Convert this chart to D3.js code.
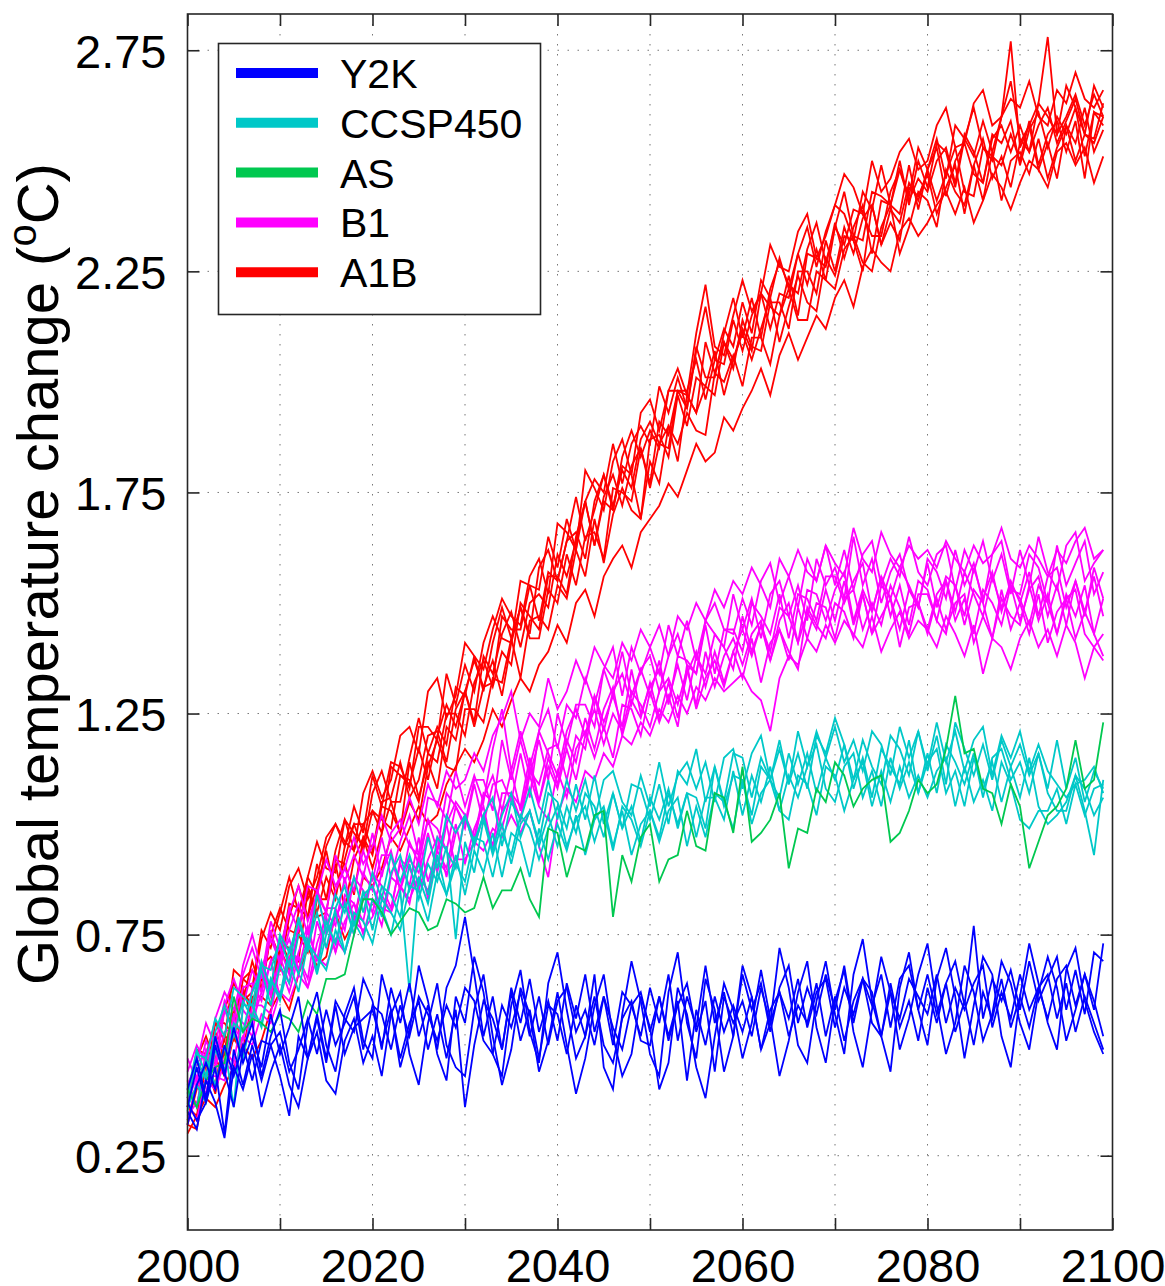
<!DOCTYPE html>
<html>

<head>
    <meta charset="utf-8">
    <title>Global temperature change</title>
    <script type="text/javascript" src="https://cdn.jsdelivr.net/npm/d3@7/dist/d3.min.js"></script>
    <style>
        body { margin: 0; background: #fff; }
        svg text { font-family: "Liberation Sans", Arial, sans-serif; fill: #000; }
    </style>
</head>

<body>
    <script type="text/javascript">
    /* data: one row per run, years 2000..2099 */
    var years = d3.range(2000, 2100);

    var a1b = [
        [0.38,0.46,0.43,0.55,0.55,0.52,0.65,0.67,0.63,0.75, 0.81,0.76,0.75,0.88,0.96,0.90,0.89,1.01,0.98,0.95,
         1.07,1.12,1.05,1.05,1.15,1.24,1.16,1.22,1.18,1.31, 1.29,1.38,1.30,1.41,1.49,1.42,1.49,1.43,1.58,1.62,
         1.55,1.64,1.74,1.64,1.71,1.79,1.71,1.83,1.89,1.83, 1.89,1.85,1.98,1.98,1.94,2.08,2.01,2.01,2.11,2.19,
         2.10,2.19,2.10,2.21,2.27,2.22,2.20,2.30,2.36,2.27, 2.35,2.43,2.33,2.32,2.43,2.42,2.40,2.50,2.40,2.50,
         2.44,2.54,2.52,2.44,2.55,2.62,2.53,2.50,2.60,2.68, 2.55,2.52,2.63,2.60,2.56,2.67,2.62,2.56,2.67,2.62],
        [0.36,0.34,0.46,0.39,0.49,0.58,0.49,0.59,0.65,0.62, 0.73,0.72,0.69,0.85,0.79,0.80,0.92,0.91,0.84,0.97,
         0.93,1.04,1.03,0.98,1.14,1.06,1.14,1.08,1.22,1.19, 1.30,1.22,1.31,1.37,1.29,1.41,1.49,1.42,1.42,1.53,
         1.50,1.61,1.54,1.65,1.66,1.60,1.76,1.75,1.73,1.85, 1.76,1.86,1.90,1.82,1.97,1.93,1.99,2.07,1.97,2.05,
         2.11,2.05,2.12,2.19,2.09,2.17,2.24,2.18,2.16,2.28, 2.24,2.33,2.32,2.25,2.40,2.31,2.36,2.32,2.44,2.42,
         2.47,2.38,2.44,2.49,2.38,2.49,2.55,2.46,2.51,2.44, 2.54,2.58,2.48,2.54,2.46,2.58,2.54,2.62,2.52,2.57],
        [0.33,0.41,0.42,0.53,0.48,0.57,0.63,0.56,0.68,0.70, 0.67,0.79,0.86,0.79,0.86,0.94,0.84,0.92,1.00,1.00,
         0.94,1.05,1.06,1.14,1.06,1.10,1.20,1.21,1.14,1.26, 1.30,1.23,1.38,1.34,1.43,1.48,1.40,1.50,1.52,1.49,
         1.61,1.56,1.64,1.73,1.63,1.74,1.79,1.72,1.81,1.85, 1.77,1.91,1.88,1.98,1.97,1.93,2.09,2.02,2.09,2.05,
         2.12,2.07,2.20,2.17,2.15,2.24,2.15,2.29,2.28,2.26, 2.36,2.28,2.35,2.40,2.29,2.41,2.40,2.38,2.49,2.39,
         2.48,2.53,2.42,2.50,2.54,2.47,2.45,2.56,2.54,2.59, 2.49,2.57,2.61,2.53,2.60,2.56,2.62,2.51,2.61,2.60],
        [0.36,0.49,0.48,0.55,0.51,0.67,0.65,0.63,0.76,0.72, 0.80,0.88,0.80,0.88,0.84,0.95,1.00,0.95,1.04,0.98,
         1.11,1.04,1.14,1.13,1.08,1.22,1.22,1.19,1.34,1.27, 1.36,1.30,1.41,1.47,1.42,1.41,1.55,1.54,1.53,1.65,
         1.58,1.69,1.62,1.73,1.78,1.75,1.86,1.77,1.86,1.90, 1.86,1.99,1.93,2.01,1.94,2.07,2.17,2.05,2.12,2.08,
         2.18,2.11,2.23,2.19,2.28,2.21,2.29,2.35,2.26,2.34, 2.40,2.38,2.32,2.43,2.39,2.49,2.40,2.48,2.42,2.53,
         2.48,2.55,2.46,2.58,2.55,2.51,2.59,2.52,2.60,2.77, 2.53,2.58,2.63,2.78,2.56,2.60,2.65,2.58,2.65,2.60],
        [0.32,0.31,0.42,0.47,0.43,0.52,0.47,0.61,0.61,0.59, 0.72,0.67,0.75,0.71,0.83,0.83,0.91,0.81,0.92,0.97,
         0.90,0.98,1.05,0.98,1.05,1.01,1.13,1.19,1.13,1.12, 1.26,1.26,1.23,1.33,1.32,1.42,1.33,1.46,1.47,1.44,
         1.54,1.51,1.62,1.56,1.69,1.59,1.70,1.76,1.71,1.69, 1.82,1.77,1.90,1.86,1.93,1.89,1.88,2.02,2.00,2.06,
         1.99,2.10,2.10,2.04,2.15,2.21,2.14,2.14,2.25,2.23, 2.21,2.30,2.33,2.27,2.25,2.35,2.40,2.29,2.35,2.43,
         2.41,2.35,2.48,2.43,2.40,2.49,2.41,2.52,2.41,2.50, 2.52,2.47,2.55,2.46,2.53,2.58,2.50,2.56,2.54,2.60],
        [0.42,0.36,0.47,0.46,0.59,0.53,0.60,0.69,0.62,0.75, 0.70,0.82,0.81,0.79,0.91,0.83,0.94,1.01,0.94,1.00,
         1.03,0.98,1.13,1.11,1.09,1.17,1.10,1.20,1.27,1.22, 1.30,1.37,1.31,1.32,1.47,1.44,1.44,1.54,1.46,1.57,
         1.55,1.64,1.66,1.60,1.73,1.79,1.72,1.80,1.76,1.87, 1.91,1.86,1.85,1.98,1.98,2.05,1.96,2.05,2.04,2.14,
         2.07,2.15,2.20,2.12,2.20,2.19,2.29,2.22,2.30,2.23, 2.35,2.31,2.39,2.38,2.33,2.33,2.43,2.48,2.41,2.46,
         2.43,2.50,2.53,2.45,2.56,2.52,2.45,2.55,2.58,2.52, 2.58,2.52,2.58,2.62,2.54,2.59,2.64,2.56,2.55,2.63],
        [0.32,0.40,0.47,0.41,0.52,0.51,0.62,0.59,0.68,0.63, 0.74,0.69,0.80,0.86,0.80,0.88,0.83,0.95,1.00,0.94,
         1.03,1.01,0.99,1.11,1.10,1.05,1.16,1.14,1.25,1.25, 1.20,1.32,1.37,1.31,1.39,1.36,1.50,1.47,1.44,1.56,
         1.56,1.52,1.65,1.73,1.63,1.73,1.71,1.81,1.79,1.69, 1.87,1.88,1.83,1.97,1.90,2.01,1.99,1.97,2.09,2.03,
         2.14,2.08,2.07,2.18,2.18,2.12,2.25,2.25,2.20,2.32, 2.25,2.35,2.29,2.37,2.40,2.31,2.39,2.36,2.45,2.41,
         2.48,2.41,2.47,2.53,2.43,2.42,2.53,2.51,2.49,2.56, 2.50,2.59,2.49,2.56,2.59,2.52,2.59,2.46,2.61,2.58],
        [0.40,0.47,0.52,0.46,0.58,0.64,0.60,0.62,0.74,0.80, 0.76,0.86,0.90,0.83,0.88,0.97,1.00,0.96,0.94,1.07,
         1.12,1.06,1.10,1.20,1.22,1.16,1.30,1.33,1.24,1.29, 1.41,1.38,1.35,1.44,1.51,1.47,1.45,1.56,1.60,1.52,
         1.68,1.66,1.62,1.80,1.76,1.71,1.82,1.87,1.79,1.93, 1.96,1.89,1.98,2.03,1.97,2.11,2.22,2.08,2.06,2.15,
         2.23,2.16,2.20,2.31,2.26,2.25,2.34,2.38,2.28,2.33, 2.40,2.47,2.44,2.38,2.50,2.43,2.46,2.52,2.55,2.48,
         2.50,2.58,2.62,2.53,2.54,2.63,2.66,2.58,2.60,2.64, 2.62,2.68,2.60,2.58,2.66,2.63,2.70,2.64,2.62,2.66],
        [0.30,0.34,0.38,0.36,0.41,0.45,0.50,0.47,0.51,0.58, 0.62,0.58,0.66,0.72,0.68,0.70,0.80,0.74,0.78,0.88,
         0.86,0.90,0.97,0.94,0.99,1.04,1.00,1.02,1.09,1.13, 1.17,1.14,1.19,1.26,1.22,1.28,1.33,1.30,1.36,1.39,
         1.45,1.41,1.50,1.53,1.47,1.56,1.60,1.63,1.58,1.66, 1.69,1.72,1.77,1.74,1.80,1.86,1.82,1.84,1.92,1.89,
         1.94,1.98,2.03,1.97,2.06,2.11,2.05,2.10,2.15,2.12, 2.19,2.23,2.17,2.26,2.30,2.27,2.25,2.34,2.37,2.33,
         2.36,2.40,2.43,2.38,2.44,2.36,2.41,2.47,2.44,2.39, 2.45,2.50,2.48,2.44,2.52,2.54,2.49,2.53,2.45,2.51]
    ];

    var b1 = [
        [0.47,0.42,0.51,0.46,0.59,0.65,0.59,0.67,0.62,0.76, 0.68,0.76,0.82,0.75,0.85,0.75,0.85,0.90,0.85,0.94,
         0.87,0.97,0.88,0.96,1.02,0.93,1.01,0.94,1.07,1.04, 1.00,1.10,1.10,1.03,1.19,1.10,1.19,1.11,1.19,1.10,
         1.25,1.18,1.27,1.27,1.22,1.35,1.29,1.39,1.29,1.35, 1.38,1.30,1.38,1.43,1.36,1.34,1.46,1.43,1.40,1.52,
         1.44,1.51,1.42,1.52,1.55,1.47,1.54,1.46,1.60,1.54, 1.58,1.51,1.65,1.54,1.60,1.50,1.57,1.61,1.53,1.49,
         1.60,1.57,1.51,1.62,1.54,1.59,1.50,1.61,1.64,1.53, 1.52,1.61,1.58,1.50,1.63,1.54,1.59,1.64,1.52,1.57],
        [0.37,0.43,0.39,0.49,0.46,0.57,0.55,0.52,0.67,0.61, 0.70,0.64,0.71,0.77,0.69,0.78,0.71,0.84,0.82,0.78,
         0.89,0.86,0.81,0.91,0.86,0.97,0.87,0.94,1.00,0.90, 1.02,0.97,1.07,1.05,0.99,1.07,1.04,1.15,1.05,1.15,
         1.09,1.19,1.14,1.24,1.17,1.26,1.31,1.20,1.28,1.24, 1.32,1.24,1.32,1.24,1.34,1.39,1.31,1.39,1.32,1.39,
         1.44,1.38,1.45,1.37,1.46,1.50,1.41,1.48,1.44,1.53, 1.46,1.55,1.45,1.52,1.43,1.54,1.51,1.44,1.53,1.50,
         1.44,1.52,1.55,1.46,1.51,1.43,1.53,1.50,1.45,1.54, 1.51,1.45,1.54,1.50,1.43,1.52,1.47,1.54,1.43,1.38],
        [0.36,0.46,0.48,0.44,0.58,0.53,0.63,0.64,0.60,0.69, 0.72,0.66,0.77,0.73,0.84,0.80,0.77,0.88,0.78,0.89,
         0.85,0.93,0.93,0.85,0.96,0.91,1.01,0.99,0.94,1.04, 0.99,1.09,1.00,1.09,1.10,1.05,1.16,1.06,1.21,1.16,
         1.11,1.21,1.26,1.20,1.29,1.21,1.30,1.34,1.27,1.35, 1.29,1.37,1.27,1.38,1.37,1.34,1.45,1.34,1.44,1.44,
         1.39,1.50,1.47,1.43,1.52,1.42,1.52,1.51,1.46,1.56, 1.56,1.50,1.55,1.59,1.48,1.56,1.51,1.58,1.54,1.49,
         1.59,1.49,1.56,1.54,1.47,1.58,1.51,1.57,1.48,1.55, 1.50,1.57,1.47,1.56,1.58,1.49,1.55,1.47,1.58,1.51],
        [0.37,0.33,0.43,0.43,0.42,0.54,0.47,0.59,0.59,0.57, 0.68,0.62,0.70,0.63,0.73,0.79,0.71,0.78,0.82,0.75,
         0.83,0.77,0.88,0.86,0.82,0.93,0.83,0.94,0.90,1.00, 0.91,0.99,1.04,0.94,1.03,1.06,1.01,1.11,1.04,1.01,
         1.12,1.06,1.17,1.21,1.15,1.22,1.15,1.27,1.26,1.20, 1.30,1.23,1.29,1.22,1.36,1.26,1.33,1.37,1.31,1.39,
         1.33,1.42,1.32,1.41,1.44,1.39,1.35,1.49,1.45,1.42, 1.50,1.48,1.42,1.52,1.43,1.47,1.51,1.40,1.49,1.50,
         1.43,1.51,1.44,1.50,1.52,1.41,1.47,1.42,1.53,1.44, 1.50,1.43,1.52,1.41,1.48,1.51,1.42,1.48,1.43,1.51],
        [0.41,0.46,0.55,0.50,0.60,0.55,0.68,0.75,0.67,0.74, 0.69,0.81,0.76,0.86,0.85,0.80,0.93,0.87,0.93,0.88,
         0.98,0.88,0.98,1.01,0.95,0.93,1.06,1.05,1.01,1.12, 1.04,1.11,1.05,1.17,1.26,1.12,1.21,1.13,1.21,1.26,
         1.17,1.27,1.24,1.33,1.27,1.35,1.40,1.29,1.40,1.34, 1.40,1.34,1.45,1.38,1.46,1.37,1.46,1.50,1.44,1.43,
         1.51,1.45,1.55,1.59,1.50,1.56,1.49,1.60,1.55,1.63, 1.54,1.62,1.53,1.61,1.64,1.54,1.60,1.56,1.65,1.57,
         1.54,1.61,1.63,1.53,1.62,1.57,1.64,1.55,1.61,1.52, 1.62,1.54,1.65,1.57,1.53,1.63,1.66,1.55,1.59,1.62],
        [0.40,0.36,0.49,0.45,0.53,0.54,0.51,0.63,0.68,0.62, 0.69,0.74,0.67,0.76,0.69,0.81,0.81,0.76,0.88,0.85,
         0.80,0.89,0.94,0.85,0.92,0.89,0.98,0.89,1.00,1.05, 1.02,0.96,1.06,1.11,1.03,1.12,1.03,1.12,1.09,1.17,
         1.18,1.10,1.20,1.17,1.29,1.23,1.29,1.22,1.35,1.25, 1.31,1.35,1.28,1.36,1.28,1.38,1.34,1.43,1.40,1.35,
         1.47,1.39,1.45,1.39,1.49,1.47,1.41,1.53,1.52,1.46, 1.53,1.57,1.46,1.53,1.48,1.56,1.47,1.54,1.45,1.55,
         1.53,1.46,1.55,1.48,1.57,1.52,1.47,1.56,1.49,1.54, 1.46,1.53,1.56,1.47,1.54,1.45,1.55,1.48,1.56,1.47],
        [0.32,0.42,0.38,0.50,0.49,0.46,0.58,0.55,0.62,0.69, 0.61,0.70,0.70,0.65,0.78,0.72,0.79,0.83,0.75,0.83,
         0.86,0.81,0.80,0.92,0.90,0.85,0.92,0.97,0.88,0.98, 1.02,0.95,1.02,0.95,1.07,1.07,1.01,1.13,1.05,1.13,
         1.08,1.17,1.10,1.20,1.26,1.18,1.25,1.21,1.30,1.27, 1.22,1.30,1.33,1.27,1.35,1.27,1.39,1.31,1.38,1.42,
         1.36,1.43,1.46,1.37,1.44,1.37,1.49,1.42,1.50,1.49, 1.42,1.51,1.53,1.44,1.50,1.45,1.54,1.49,1.43,1.52,
         1.52,1.46,1.43,1.54,1.45,1.53,1.50,1.42,1.51,1.47, 1.45,1.54,1.46,1.52,1.43,1.51,1.53,1.43,1.40,1.37],
        [0.44,0.50,0.46,0.56,0.62,0.58,0.66,0.72,0.65,0.78, 0.72,0.80,0.86,0.78,0.84,0.92,0.86,0.90,0.97,0.91,
         0.95,1.02,0.96,0.99,1.06,1.00,1.09,1.04,1.12,1.08, 1.10,1.16,1.12,1.20,1.24,1.30,1.19,1.25,1.22,1.33,
         1.26,1.30,1.37,1.32,1.40,1.36,1.33,1.41,1.37,1.44, 1.40,1.45,1.38,1.47,1.44,1.50,1.46,1.53,1.49,1.55,
         1.52,1.58,1.54,1.49,1.60,1.56,1.62,1.57,1.55,1.63, 1.59,1.56,1.67,1.60,1.57,1.66,1.61,1.58,1.63,1.60,
         1.62,1.58,1.64,1.60,1.57,1.63,1.59,1.61,1.67,1.60, 1.58,1.63,1.60,1.56,1.62,1.59,1.64,1.67,1.60,1.62],
        [0.34,0.37,0.42,0.40,0.46,0.44,0.52,0.50,0.57,0.55, 0.62,0.60,0.66,0.63,0.70,0.68,0.74,0.71,0.78,0.76,
         0.79,0.84,0.80,0.86,0.83,0.88,0.85,0.92,0.89,0.92, 0.92,0.96,0.94,0.99,0.97,1.02,0.98,1.03,0.95,0.88,
         1.02,1.08,1.05,1.12,1.10,1.16,1.13,1.20,1.18,1.23, 1.20,1.26,1.23,1.29,1.25,1.31,1.28,1.33,1.30,1.32,
         1.34,1.30,1.28,1.21,1.33,1.38,1.36,1.42,1.39,1.45, 1.41,1.46,1.43,1.40,1.47,1.39,1.44,1.48,1.42,1.46,
         1.44,1.40,1.47,1.43,1.38,1.45,1.34,1.42,1.40,1.35, 1.42,1.46,1.40,1.44,1.38,1.45,1.41,1.33,1.40,1.43]
    ];

    var ccsp450 = [
        [0.39,0.49,0.43,0.53,0.59,0.52,0.60,0.56,0.68,0.67, 0.74,0.68,0.79,0.72,0.80,0.72,0.81,0.86,0.77,0.84,
         0.86,0.79,0.89,0.93,0.85,0.91,0.84,0.97,0.94,0.90, 1.02,0.95,1.02,0.94,1.02,1.07,0.97,1.03,0.96,1.07,
         1.05,0.99,1.09,1.01,1.11,1.00,1.07,0.99,1.09,1.08, 1.01,1.09,1.00,1.12,1.09,1.17,1.05,1.13,1.05,1.16,
         1.15,1.06,1.15,1.10,1.19,1.09,1.16,1.08,1.20,1.16, 1.24,1.18,1.10,1.19,1.13,1.09,1.20,1.17,1.11,1.21,
         1.12,1.20,1.09,1.23,1.17,1.11,1.18,1.10,1.19,1.13, 1.18,1.11,1.16,1.08,1.19,1.08,1.15,1.05,1.12,1.08],
        [0.40,0.36,0.47,0.41,0.50,0.36,0.59,0.59,0.54,0.65, 0.61,0.72,0.66,0.74,0.66,0.75,0.80,0.71,0.78,0.74,
         0.83,0.81,0.75,0.85,0.62,0.88,0.82,0.93,0.84,0.91, 0.87,0.97,0.96,0.88,0.98,0.93,1.02,0.99,0.92,0.99,
         1.04,0.95,1.01,1.04,0.96,1.03,0.94,1.04,1.01,0.95, 1.03,0.97,1.07,1.00,1.07,0.97,1.06,1.06,1.01,1.12,
         1.02,1.11,1.05,1.13,1.03,1.11,1.06,1.13,1.18,1.08, 1.05,1.13,1.16,1.06,1.12,1.04,1.15,1.08,1.14,1.07,
         1.14,1.17,1.07,1.12,1.04,1.15,1.08,1.14,1.05,1.13, 1.06,1.15,1.04,1.00,1.02,1.05,1.11,1.08,1.02,1.06],
        [0.35,0.47,0.42,0.52,0.44,0.55,0.53,0.62,0.67,0.59, 0.68,0.64,0.75,0.74,0.67,0.78,0.73,0.82,0.75,0.85,
         0.76,0.86,0.84,0.79,0.91,0.83,0.91,0.87,0.95,0.74, 0.96,0.89,1.01,0.93,1.00,0.91,1.00,1.03,0.95,1.02,
         0.95,1.04,0.98,1.07,1.04,0.97,1.07,0.99,1.04,0.96, 1.06,1.01,1.08,0.99,1.07,1.06,0.99,1.13,1.04,1.11,
         1.10,1.02,1.13,1.10,1.06,1.16,1.09,1.16,1.07,1.15, 1.10,1.18,1.08,1.15,1.06,1.17,1.13,1.09,1.19,1.07,
         1.16,1.07,1.18,1.14,1.09,1.16,1.06,1.15,1.17,1.10, 1.14,1.07,1.16,1.07,1.03,1.03,1.11,1.03,0.93,1.10],
        [0.36,0.41,0.37,0.49,0.44,0.53,0.47,0.57,0.55,0.65, 0.60,0.69,0.62,0.73,0.70,0.67,0.76,0.71,0.80,0.78,
         0.73,0.83,0.80,0.76,0.86,0.85,0.78,0.89,0.84,0.93, 0.84,0.94,0.89,0.98,0.88,0.98,0.96,0.88,0.99,0.92,
         1.00,0.94,1.02,0.93,1.01,1.04,0.95,1.03,0.93,1.00, 1.03,0.96,1.03,1.06,0.95,1.04,0.97,1.07,1.05,0.99,
         1.10,1.00,1.07,1.10,1.03,1.01,1.11,1.09,1.02,1.13, 1.11,1.03,1.10,1.14,1.04,1.12,1.05,1.13,1.06,1.11,
         1.06,1.12,1.15,1.04,1.13,1.05,1.10,1.03,1.14,1.09, 1.01,0.99,1.03,1.03,1.08,1.00,1.09,1.02,1.08,1.09],
        [0.38,0.48,0.47,0.56,0.52,0.63,0.61,0.59,0.69,0.63, 0.75,0.71,0.78,0.71,0.84,0.76,0.84,0.80,0.88,0.80,
         0.89,0.83,0.93,0.87,0.93,0.86,0.97,0.90,1.02,0.98, 1.02,0.96,1.02,1.06,0.95,1.05,1.01,1.08,1.00,1.10,
         1.01,1.10,1.03,1.10,1.01,1.10,1.12,1.05,1.02,1.11, 1.04,1.14,1.04,1.11,1.14,1.08,1.14,1.05,1.15,1.17,
         1.08,1.16,1.20,1.10,1.17,1.09,1.21,1.13,1.21,1.15, 1.22,1.14,1.19,1.12,1.21,1.18,1.11,1.22,1.15,1.21,
         1.13,1.23,1.14,1.21,1.12,1.19,1.22,1.11,1.20,1.15, 1.21,1.12,1.18,1.12,1.09,1.06,1.09,1.10,1.13,1.07]
    ];

    var as = [
        [0.40,0.36,0.42,0.45,0.46,0.61,0.53,0.56,0.55,0.53, 0.57,0.56,0.53,0.60,0.57,0.65,0.65,0.66,0.75,0.83,
         0.83,0.80,0.75,0.78,0.81,0.80,0.76,0.77,0.83,0.82, 0.80,0.81,0.88,0.81,0.85,0.85,0.90,0.83,0.79,0.99,
         0.98,0.88,0.95,0.94,1.02,1.03,0.79,0.93,0.87,0.97, 1.00,0.87,0.92,0.93,1.03,0.95,0.94,1.07,1.06,0.98,
         1.13,0.96,0.98,1.01,1.07,0.90,0.99,0.98,1.08,1.05, 1.14,1.11,1.04,1.08,1.10,1.11,0.96,0.98,1.03,1.10,
         1.07,1.09,1.17,1.29,1.16,1.17,1.08,1.07,1.00,1.09, 1.04,0.90,0.96,1.02,1.04,1.08,1.19,1.08,1.10,1.23]
    ];

    var y2k = [
        [0.36,0.45,0.37,0.50,0.43,0.54,0.46,0.52,0.45,0.57, 0.48,0.54,0.61,0.47,0.57,0.47,0.60,0.56,0.53,0.65,
         0.60,0.49,0.63,0.55,0.64,0.52,0.59,0.49,0.63,0.68, 0.79,0.66,0.52,0.61,0.49,0.63,0.55,0.65,0.53,0.60,
         0.51,0.64,0.56,0.66,0.53,0.61,0.50,0.62,0.59,0.52, 0.63,0.55,0.66,0.51,0.61,0.54,0.68,0.55,0.62,0.52,
         0.66,0.58,0.64,0.53,0.63,0.68,0.55,0.63,0.57,0.66, 0.58,0.68,0.55,0.65,0.59,0.66,0.54,0.65,0.68,0.58,
         0.66,0.57,0.64,0.69,0.59,0.77,0.56,0.65,0.60,0.67, 0.58,0.69,0.60,0.65,0.70,0.58,0.67,0.57,0.71,0.69],
        [0.37,0.33,0.37,0.45,0.30,0.49,0.41,0.50,0.42,0.50, 0.43,0.34,0.52,0.47,0.56,0.46,0.59,0.48,0.54,0.56,
         0.58,0.50,0.58,0.47,0.55,0.60,0.49,0.57,0.47,0.58, 0.36,0.50,0.60,0.56,0.49,0.62,0.51,0.58,0.47,0.59,
         0.57,0.48,0.59,0.52,0.61,0.50,0.46,0.56,0.60,0.51, 0.50,0.61,0.52,0.60,0.42,0.58,0.50,0.61,0.53,0.59,
         0.53,0.61,0.49,0.58,0.62,0.52,0.59,0.55,0.64,0.52, 0.61,0.51,0.60,0.65,0.55,0.52,0.64,0.54,0.60,0.51,
         0.63,0.55,0.64,0.53,0.60,0.50,0.62,0.56,0.65,0.54, 0.61,0.54,0.63,0.66,0.56,0.64,0.53,0.61,0.55,0.49],
        [0.32,0.41,0.46,0.40,0.50,0.43,0.50,0.42,0.51,0.50, 0.53,0.44,0.49,0.56,0.48,0.58,0.50,0.55,0.61,0.49,
         0.59,0.57,0.49,0.59,0.52,0.61,0.57,0.51,0.59,0.54, 0.63,0.60,0.51,0.48,0.59,0.54,0.62,0.52,0.61,0.50,
         0.60,0.63,0.53,0.58,0.50,0.61,0.54,0.49,0.59,0.62, 0.53,0.61,0.51,0.59,0.64,0.53,0.60,0.44,0.61,0.55,
         0.60,0.52,0.63,0.55,0.62,0.56,0.65,0.54,0.62,0.65, 0.54,0.63,0.57,0.65,0.62,0.52,0.62,0.56,0.65,0.61,
         0.57,0.66,0.55,0.63,0.58,0.64,0.68,0.54,0.62,0.56, 0.66,0.58,0.63,0.56,0.65,0.68,0.59,0.66,0.58,0.73],
        [0.40,0.47,0.38,0.52,0.44,0.36,0.49,0.55,0.43,0.52, 0.58,0.46,0.40,0.55,0.62,0.50,0.44,0.57,0.63,0.51,
         0.47,0.66,0.58,0.45,0.53,0.68,0.60,0.48,0.42,0.61, 0.55,0.70,0.62,0.48,0.43,0.59,0.67,0.53,0.46,0.64,
         0.71,0.58,0.47,0.52,0.66,0.45,0.40,0.57,0.69,0.60, 0.48,0.43,0.62,0.71,0.55,0.47,0.65,0.58,0.44,0.52,
         0.68,0.61,0.49,0.55,0.72,0.63,0.50,0.46,0.60,0.69, 0.57,0.48,0.66,0.74,0.60,0.52,0.44,0.63,0.71,0.58,
         0.50,0.65,0.72,0.61,0.47,0.59,0.70,0.66,0.52,0.45, 0.61,0.73,0.64,0.55,0.49,0.67,0.72,0.60,0.53,0.48],
        [0.35,0.31,0.42,0.37,0.29,0.45,0.40,0.48,0.36,0.44, 0.50,0.41,0.36,0.47,0.53,0.42,0.39,0.51,0.56,0.46,
         0.52,0.43,0.57,0.62,0.48,0.41,0.55,0.64,0.50,0.45, 0.43,0.58,0.66,0.52,0.41,0.49,0.63,0.57,0.44,0.51,
         0.62,0.50,0.39,0.47,0.59,0.66,0.52,0.43,0.48,0.61, 0.54,0.40,0.46,0.63,0.57,0.45,0.38,0.52,0.64,0.58,
         0.47,0.55,0.67,0.56,0.43,0.51,0.62,0.69,0.54,0.46, 0.60,0.67,0.53,0.45,0.58,0.70,0.62,0.49,0.56,0.66,
         0.73,0.59,0.48,0.55,0.68,0.62,0.51,0.57,0.69,0.64, 0.55,0.49,0.62,0.70,0.63,0.51,0.58,0.66,0.60,0.52]
    ];

    var legendNames = ['Y2K', 'CCSP450', 'AS', 'B1', 'A1B'];
    var xTicks = d3.range(2000, 2101, 10);
    var xLabels = [2000, 2020, 2040, 2060, 2080, 2100];
    var yTicks = [0.25, 0.75, 1.25, 1.75, 2.25, 2.75];

    /* 描画の設定 */
    var svgWidth = 1165;
    var svgHeight = 1286;
    var colors = {
        'Y2K': '#0000ff',
        'CCSP450': '#00c8c8',
        'AS': '#00c850',
        'B1': '#ff00ff',
        'A1B': '#ff0000'
    };
    var runs = { 'Y2K': y2k, 'CCSP450': ccsp450, 'AS': as, 'B1': b1, 'A1B': a1b };
    var drawOrder = ['A1B', 'B1', 'CCSP450', 'AS', 'Y2K'];

    // plot box in pixels
    var plotL = 187.5, plotR = 1112.5, plotT = 14, plotB = 1230;

    var svg = d3.select('body').append('svg')
        .attr('width', svgWidth)
        .attr('height', svgHeight);

    var x = d3.scaleLinear().domain([2000, 2100]).range([plotL, plotR]);
    var y = d3.scaleLinear().domain([0.082, 2.832]).range([plotB, plotT]);

    /* grid */
    var grid = svg.append('g')
        .attr('stroke', '#777')
        .attr('stroke-width', 1)
        .attr('stroke-dasharray', '1.5,8.5');
    grid.selectAll('.gx')
        .data(xTicks.slice(1, -1))
        .enter().append('line')
        .attr('x1', function(d) { return x(d); })
        .attr('x2', function(d) { return x(d); })
        .attr('y1', plotT)
        .attr('y2', plotB);
    grid.selectAll('.gy')
        .data(yTicks)
        .enter().append('line')
        .attr('x1', plotL)
        .attr('x2', plotR)
        .attr('y1', function(d) { return y(d); })
        .attr('y2', function(d) { return y(d); });

    /* runs */
    var line = d3.line()
        .x(function(d, i) { return x(years[i]); })
        .y(function(d) { return y(d); });

    drawOrder.forEach(function(name) {
        svg.append('g')
            .selectAll('path')
            .data(runs[name])
            .enter().append('path')
            .attr('d', line)
            .attr('fill', 'none')
            .attr('stroke', colors[name])
            .attr('stroke-width', 1.8)
            .attr('stroke-linejoin', 'miter');
    });

    /* axes, ticks pointing inwards */
    var fmtX = function(d) { return xLabels.indexOf(d) >= 0 ? d : ''; };
    var axisColor = '#262626';

    svg.append('g')
        .attr('transform', 'translate(0,' + plotB + ')')
        .call(d3.axisBottom(x).tickValues(xTicks).tickSize(-12).tickSizeOuter(0)
            .tickPadding(18.5).tickFormat(fmtX));
    svg.append('g')
        .attr('transform', 'translate(0,' + plotT + ')')
        .call(d3.axisTop(x).tickValues(xTicks).tickSize(-12).tickSizeOuter(0).tickFormat(''));
    var gy = svg.append('g')
        .attr('transform', 'translate(' + plotL + ',0)')
        .call(d3.axisLeft(y).tickValues(yTicks).tickSize(-12).tickSizeOuter(0)
            .tickPadding(21).tickFormat(d3.format('.2f')));
    svg.append('g')
        .attr('transform', 'translate(' + plotR + ',0)')
        .call(d3.axisRight(y).tickValues(yTicks).tickSize(-12).tickSizeOuter(0).tickFormat(''));

    svg.selectAll('.domain').remove();
    svg.selectAll('.tick line').attr('stroke', axisColor).attr('stroke-width', 1.6);
    svg.selectAll('.tick text')
        .attr('font-family', '"Liberation Sans", Arial, sans-serif')
        .attr('font-size', 47)
        .attr('fill', '#000');
    gy.selectAll('.tick text').attr('dy', '0.36em');

    /* frame */
    svg.append('rect')
        .attr('x', plotL)
        .attr('y', plotT)
        .attr('width', plotR - plotL)
        .attr('height', plotB - plotT)
        .attr('fill', 'none')
        .attr('stroke', axisColor)
        .attr('stroke-width', 1.6);

    /* y title */
    var title = svg.append('text')
        .attr('transform', 'translate(58,574) rotate(-90)')
        .attr('text-anchor', 'middle')
        .attr('font-size', 58);
    title.append('tspan').text('Global temperature change (');
    title.append('tspan').attr('font-size', 40).attr('dy', -22).text('o');
    title.append('tspan').attr('dy', 22).text('C)');

    /* legend */
    var legend = svg.append('g');
    legend.append('rect')
        .attr('x', 218.5)
        .attr('y', 43.5)
        .attr('width', 322)
        .attr('height', 271)
        .attr('fill', '#fff')
        .attr('stroke', axisColor)
        .attr('stroke-width', 1.6);
    var rows = legend.selectAll('.row')
        .data(legendNames)
        .enter().append('g')
        .attr('transform', function(d, i) { return 'translate(0,' + (73 + i * 49.8) + ')'; });
    rows.append('line')
        .attr('x1', 236)
        .attr('x2', 318)
        .attr('stroke', function(d) { return colors[d]; })
        .attr('stroke-width', 10);
    rows.append('text')
        .attr('x', 340)
        .attr('y', 15)
        .attr('font-size', 41)
        .text(function(d) { return d; });
    </script>
</body>

</html>
